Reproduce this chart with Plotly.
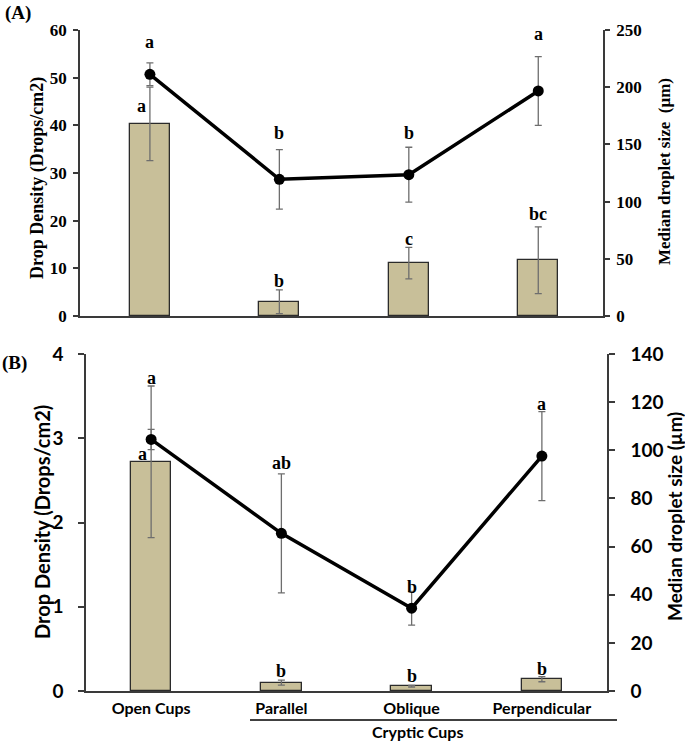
import plotly.graph_objects as go

# ---------------- data ----------------
categories = ["Open Cups", "Parallel", "Oblique", "Perpendicular"]

# Panel A
a_density = [40.3, 3.0, 11.1, 11.7]
a_density_err = [7.7, 2.5, 3.3, 7.0]
a_size = [211.3, 119.5, 123.5, 196.7]
a_size_err = [10.0, 26.0, 24.0, 30.0]
a_density_letters = ["a", "b", "c", "bc"]
a_size_letters = ["a", "b", "b", "a"]

# Panel B
b_density = [2.72, 0.10, 0.055, 0.14]
b_density_err = [0.90, 0.03, 0.01, 0.03]
b_size = [104.5, 65.5, 34.4, 97.6]
b_size_err = [4.2, 24.7, 7.0, 18.5]
b_density_letters = ["a", "b", "b", "b"]
b_size_letters = ["a", "ab", "b", "a"]

# letter label anchor heights (axis units)
a_density_label_y = [44.0, 7.3, 16.1, 21.4]
a_size_label_y = [239.8, 160.4, 160.4, 246.5]
b_density_label_y = [2.81, 0.24, 0.178, 0.26]
b_size_label_y = [130.2, 94.6, 43.3, 119.2]

# ---------------- style ----------------
W, H = 685, 741
SERIF = "Liberation Serif, Times New Roman, serif"
SANS = "Lato, Open Sans, sans-serif"
BAR_FILL = "#C8BF99"
BAR_LINE = "#2b2b2b"
ERR_COL = "#6e6e6e"
AX_COL = "#3a3a3a"


def px_x(p):
    return p / W


def px_y(p):
    return 1 - p / H


fig = go.Figure()

# Panel A
fig.add_trace(go.Bar(
    x=categories, y=a_density, width=0.31, xaxis="x", yaxis="y",
    marker=dict(color=BAR_FILL, line=dict(color=BAR_LINE, width=1.3)),
    error_y=dict(type="data", array=a_density_err, color=ERR_COL, thickness=1.3, width=3.5),
    showlegend=False,
))
fig.add_trace(go.Scatter(
    x=categories, y=a_size, xaxis="x", yaxis="y2", mode="lines+markers",
    line=dict(color="black", width=3.5), marker=dict(color="black", size=11),
    error_y=dict(type="data", array=a_size_err, color=ERR_COL, thickness=1.3, width=3.5),
    showlegend=False,
))

# Panel B
fig.add_trace(go.Bar(
    x=categories, y=b_density, width=0.31, xaxis="x2", yaxis="y3",
    marker=dict(color=BAR_FILL, line=dict(color=BAR_LINE, width=1.3)),
    error_y=dict(type="data", array=b_density_err, color=ERR_COL, thickness=1.3, width=3.5),
    showlegend=False,
))
fig.add_trace(go.Scatter(
    x=categories, y=b_size, xaxis="x2", yaxis="y4", mode="lines+markers",
    line=dict(color="black", width=3.5), marker=dict(color="black", size=11),
    error_y=dict(type="data", array=b_size_err, color=ERR_COL, thickness=1.3, width=3.5),
    showlegend=False,
))

annotations = []
letter_font = dict(family=SERIF, size=18, color="black", weight="bold")
for i, c in enumerate(categories):
    annotations.append(dict(x=c, y=a_size_label_y[i], xref="x", yref="y2", text=a_size_letters[i],
                            showarrow=False, font=letter_font, yanchor="middle"))
    annotations.append(dict(x=c, y=a_density_label_y[i], xref="x", yref="y", text=a_density_letters[i],
                            showarrow=False, font=letter_font, yanchor="middle",
                            xshift=-8 if i == 0 else 0))
    annotations.append(dict(x=c, y=b_size_label_y[i], xref="x2", yref="y4", text=b_size_letters[i],
                            showarrow=False, font=letter_font, yanchor="middle"))
    annotations.append(dict(x=c, y=b_density_label_y[i], xref="x2", yref="y3", text=b_density_letters[i],
                            showarrow=False, font=letter_font, yanchor="middle",
                            xshift=-9 if i == 0 else 0))

# panel tags
annotations.append(dict(x=px_x(3), y=px_y(13), xref="paper", yref="paper", text="(A)", showarrow=False,
                        xanchor="left", yanchor="middle", font=dict(family=SERIF, size=19, color="black", weight="bold")))
annotations.append(dict(x=px_x(0), y=px_y(363), xref="paper", yref="paper", text="(B)", showarrow=False,
                        xanchor="left", yanchor="middle", font=dict(family=SERIF, size=19, color="black", weight="bold")))

# axis titles
annotations.append(dict(x=px_x(37), y=px_y(178), xref="paper", yref="paper", text="Drop Density (Drops/cm2)",
                        textangle=-90, showarrow=False, xanchor="center", yanchor="middle",
                        font=dict(family=SERIF, size=18, color="black", weight="bold")))
annotations.append(dict(x=px_x(665), y=px_y(172), xref="paper", yref="paper", text="Median droplet size  (µm)",
                        textangle=-90, showarrow=False, xanchor="center", yanchor="middle",
                        font=dict(family=SERIF, size=17, color="black", weight="bold")))
annotations.append(dict(x=px_x(42), y=px_y(522), xref="paper", yref="paper", text="Drop Density (Drops/cm2)",
                        textangle=-90, showarrow=False, xanchor="center", yanchor="middle",
                        font=dict(family=SANS, size=20, color="black", weight="bold")))
annotations.append(dict(x=px_x(674), y=px_y(517), xref="paper", yref="paper", text="Median droplet size (µm)",
                        textangle=-90, showarrow=False, xanchor="center", yanchor="middle",
                        font=dict(family=SANS, size=19, color="black", weight="bold")))
annotations.append(dict(x=px_x(417), y=px_y(731), xref="paper", yref="paper", text="Cryptic Cups",
                        showarrow=False, xanchor="center", yanchor="middle",
                        font=dict(family=SANS, size=16, color="black", weight="bold")))

shapes = [dict(type="line", xref="paper", yref="paper", x0=px_x(250), x1=px_x(617),
               y0=px_y(720), y1=px_y(720), line=dict(color="black", width=1.5))]

serif_tick = dict(family=SERIF, size=17, color="black", weight="bold")
sans_tick = dict(family=SANS, size=19, color="black", weight="bold")

fig.update_layout(
    width=W, height=H,
    margin=dict(l=0, r=0, t=0, b=0, autoexpand=False),
    paper_bgcolor="white", plot_bgcolor="white",
    showlegend=False,
    bargap=0,
    xaxis=dict(domain=[px_x(80), px_x(603)], anchor="y", range=[-0.54, 3.5], automargin=False,
               showticklabels=False, ticks="", showline=True, linecolor=AX_COL, linewidth=1.5,
               showgrid=False, zeroline=False, categoryorder="array", categoryarray=categories),
    yaxis=dict(domain=[px_y(316), px_y(30)], anchor="x", range=[0, 60], dtick=10, automargin=False,
               showline=True, linecolor=AX_COL, linewidth=1.5, ticks="outside", ticklen=5,
               tickcolor=AX_COL, tickwidth=1.5, showgrid=False, zeroline=False,
               tickfont=serif_tick, ticklabelstandoff=3),
    yaxis2=dict(overlaying="y", side="right", anchor="x", range=[0, 250], dtick=50, automargin=False,
                showline=True, linecolor=AX_COL, linewidth=1.5, ticks="outside", ticklen=5,
                tickcolor=AX_COL, tickwidth=1.5, showgrid=False, zeroline=False,
                tickfont=serif_tick, ticklabelstandoff=3),
    xaxis2=dict(domain=[px_x(86), px_x(607)], anchor="y3", range=[-0.5, 3.5], automargin=False,
                ticks="", showline=True, linecolor=AX_COL, linewidth=1.5,
                showgrid=False, zeroline=False, tickfont=dict(family=SANS, size=16, color="black", weight="bold"),
                ticklabelstandoff=2, categoryorder="array", categoryarray=categories),
    yaxis3=dict(domain=[px_y(691), px_y(354)], anchor="x2", range=[0, 4], dtick=1, automargin=False,
                showline=True, linecolor=AX_COL, linewidth=1.5, ticks="outside", ticklen=6,
                tickcolor=AX_COL, tickwidth=1.5, showgrid=False, zeroline=False,
                tickfont=sans_tick, ticklabelstandoff=11),
    yaxis4=dict(overlaying="y3", side="right", anchor="x2", range=[0, 140], dtick=20, automargin=False,
                showline=True, linecolor=AX_COL, linewidth=1.5, ticks="outside", ticklen=6,
                tickcolor=AX_COL, tickwidth=1.5, showgrid=False, zeroline=False,
                tickfont=sans_tick, ticklabelstandoff=12),
    annotations=annotations,
    shapes=shapes,
)

fig.write_html("out.html", config={"displayModeBar": False},
               post_script="document.body.style.margin='0';")
